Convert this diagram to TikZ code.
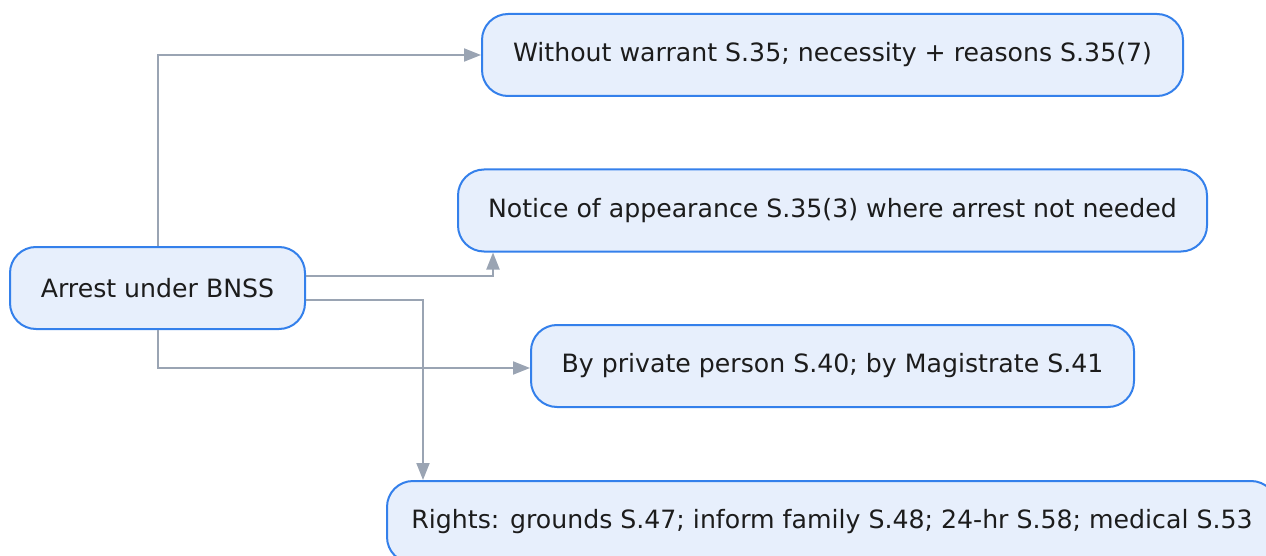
\documentclass[tikz,border=0pt]{standalone}
\usepackage{fontspec}
\setmainfont{DejaVu Sans}
\usetikzlibrary{arrows.meta}
\definecolor{boxfill}{HTML}{E7EFFC}
\definecolor{boxline}{HTML}{3480EB}
\definecolor{linkgray}{HTML}{9AA4B3}
\definecolor{ink}{HTML}{1C1C1C}
\tikzset{
  stepbox/.style={draw=boxline, line width=2pt, fill=boxfill, rounded corners=26pt,
    minimum height=82pt, inner sep=0pt, text=ink,
    font=\fontsize{25.2pt}{29pt}\selectfont},
  link/.style={draw=linkgray, line width=2pt, -{Triangle[length=17pt,width=13pt]}}
}
\begin{document}
\begin{tikzpicture}[x=1pt,y=-1pt]
\useasboundingbox (0,0) rectangle (1266,556);
\node[stepbox, minimum width=295pt] (arrest) at (157.5,288) {Arrest under BNSS};
\node[stepbox, minimum width=701pt] (warrant) at (832.5,55) {Without warrant S.35; necessity + reasons S.35(7)};
\node[stepbox, minimum width=749pt] (notice) at (832.5,210.5) {Notice of appearance S.35(3) where arrest not needed};
\node[stepbox, minimum width=603pt] (private) at (832.5,366) {By private person S.40; by Magistrate S.41};
\node[stepbox, minimum width=890pt] (rights) at (832,522) {Rights: grounds S.47; inform family S.48; 24-hr S.58; medical S.53};
\draw[link] (arrest.north) |- (warrant.west);
\draw[link] ([yshift=12pt]arrest.east) -| ([xshift=36pt]notice.south west);
\draw[link] ([yshift=-12pt]arrest.east) -| ([xshift=37pt]rights.north west);
\draw[link] (arrest.south) |- ([yshift=-2pt]private.west);
\end{tikzpicture}
\end{document}
